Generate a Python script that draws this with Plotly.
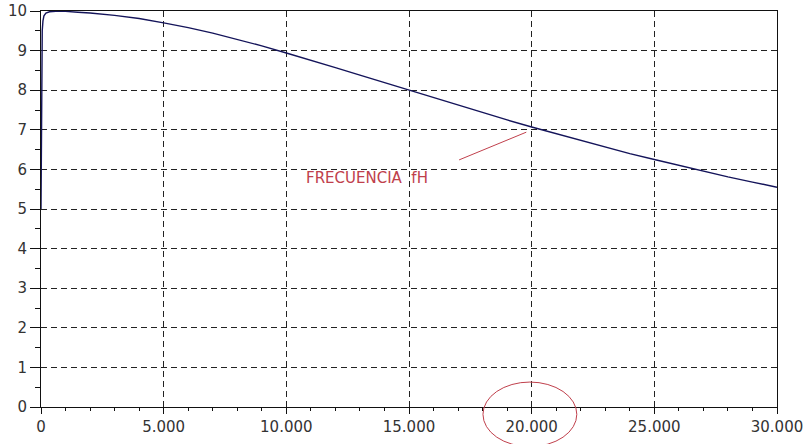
import plotly.graph_objects as go

# gain curve (frequency in Hz)
freq = [0, 5, 10, 20, 30, 50, 80, 120, 200, 350, 600, 1000, 1500, 2000, 3000,
        4000, 5000, 6000, 7000, 8000, 9000, 10000, 11000, 12000, 13000, 14000,
        15000, 16000, 17000, 18000, 19000, 20000, 21000, 22000, 23000, 24000,
        25000, 26000, 27000, 28000, 29000, 30000]
gain = [5.0, 6.0, 7.1, 8.4, 9.0, 9.5, 9.75, 9.88, 9.95, 9.98, 9.99, 9.99, 9.97,
        9.95, 9.89, 9.81, 9.70, 9.58, 9.44, 9.28, 9.12, 8.94, 8.76, 8.57, 8.38,
        8.19, 8.00, 7.81, 7.62, 7.43, 7.25, 7.07, 6.90, 6.73, 6.56, 6.40, 6.25,
        6.10, 5.96, 5.81, 5.68, 5.55]

x_ticks = [0, 5000, 10000, 15000, 20000, 25000, 30000]
x_labels = ["0", "5.000", "10.000", "15.000", "20.000", "25.000", "30.000"]
y_ticks = list(range(0, 11))

red = "#c0404c"
font = dict(family="DejaVu Sans", size=15, color="#333")

fig = go.Figure()
fig.add_trace(go.Scatter(
    x=freq, y=gain, mode="lines",
    line=dict(color="#14145a", width=1.4),
    cliponaxis=False, hoverinfo="skip",
))

axis_common = dict(
    showline=True, linecolor="#111", linewidth=1, mirror=True,
    showgrid=True, gridcolor="#222", gridwidth=1, griddash="6px,4px",
    zeroline=False, ticks="outside", tickcolor="#111", tickfont=font,
    automargin=False,
)

fig.update_xaxes(
    range=[0, 30000], tickvals=x_ticks, ticktext=x_labels, ticklen=6,
    minor=dict(dtick=1000, ticks="outside", ticklen=3, tickcolor="#111", showgrid=False),
    **axis_common,
)
fig.update_yaxes(
    range=[0, 10], tickvals=y_ticks, ticklen=10,
    minor=dict(dtick=0.5, ticks="outside", ticklen=5, tickcolor="#111", showgrid=False),
    **axis_common,
)

fig.add_annotation(
    x=10708, y=5.78, text="FRECUENCIA  fH", showarrow=False,
    xanchor="left", yanchor="middle", font=dict(family="DejaVu Sans", size=15, color=red),
)
fig.add_shape(type="line", x0=17043, y0=6.24, x1=19780, y1=6.94,
              line=dict(color=red, width=1))
fig.add_shape(type="circle", xref="paper", yref="paper",
              x0=0.6005, x1=0.728, y0=-0.1, y1=0.063,
              line=dict(color=red, width=1))

fig.update_layout(
    width=804, height=444,
    margin=dict(l=41, r=27, t=11, b=37),
    paper_bgcolor="white", plot_bgcolor="white",
    showlegend=False,
)

# drop the browser's default 8px body margin so the figure sits at the corner
fig.write_html(
    "out.html",
    config={"displayModeBar": False},
    post_script="document.body.style.margin = '0';",
)
